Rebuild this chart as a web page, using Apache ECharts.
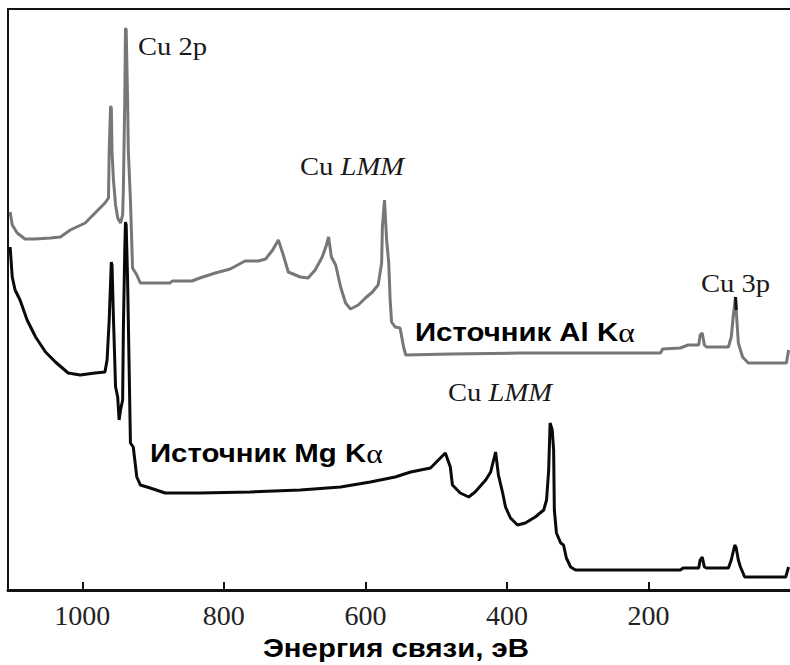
<!DOCTYPE html>
<html>
<head>
<meta charset="utf-8">
<script src="https://cdn.jsdelivr.net/npm/echarts@6/dist/echarts.min.js"></script>
<style>
  html, body { margin: 0; padding: 0; background: #fff; }
  #chart { width: 790px; height: 665px; }
</style>
</head>
<body>
<div id="chart"></div>
<script>
// XPS survey spectra of copper: binding energy (eV) vs. intensity (arb. units)

// Al Kα excitation
const alEnergy = [1102, 1099, 1092, 1081, 1067, 1045, 1031, 1017, 996, 982, 968, 963, 962, 960, 959, 958, 956, 953, 950, 946, 943, 942, 940, 939, 938, 936, 935, 932, 929, 923, 918, 876, 873, 845, 834, 812, 791, 770, 751, 741, 731, 723, 716, 709, 692, 681, 671, 661, 655, 652, 648, 642, 635, 628, 621, 610, 600, 590, 582, 577, 576, 573, 570, 567, 565, 563, 558, 551, 546, 543, 480, 381, 268, 183, 180, 155, 144, 129, 127, 124, 121, 118, 87, 83, 80, 77, 76, 73, 67, 59, 5, 2];
const alIntensity = [378, 365, 357, 351, 351, 352, 353, 360, 367, 377, 387, 392, 440, 484, 482, 438, 410, 385, 372, 367, 375, 400, 490, 562, 560, 490, 440, 390, 322, 315, 307, 307, 309, 309, 312, 317, 321, 329, 329, 331, 340, 350, 335, 318, 313, 312, 320, 333, 345, 353, 333, 325, 303, 287, 281, 285, 292, 298, 305, 327, 363, 390, 350, 327, 290, 268, 263, 262, 243, 235, 236, 237, 237, 237, 241, 242, 245, 245, 255, 257, 245, 243, 243, 253, 275, 293, 280, 247, 233, 227, 227, 240];

// Mg Kα excitation
const mgEnergy = [1102, 1099, 1095, 1088, 1078, 1066, 1052, 1038, 1020, 1003, 982, 968, 965, 962, 959, 958, 956, 953, 950, 948, 946, 943, 942, 940, 939, 938, 936, 935, 932, 928, 923, 918, 904, 883, 834, 763, 692, 635, 593, 558, 536, 508, 494, 487, 480, 477, 466, 454, 445, 430, 423, 416, 412, 406, 402, 395, 385, 374, 360, 348, 344, 341, 339, 336, 334, 333, 330, 324, 320, 316, 310, 303, 155, 151, 129, 127, 124, 121, 118, 87, 83, 78, 76, 73, 70, 64, 6, 2];
const mgIntensity = [343, 313, 300, 290, 270, 253, 238, 228, 217, 215, 217, 218, 230, 270, 328, 325, 272, 203, 193, 170, 180, 190, 260, 340, 368, 365, 310, 270, 147, 143, 113, 105, 102, 97, 97, 98, 100, 103, 108, 113, 118, 122, 132, 137, 123, 105, 97, 93, 98, 110, 118, 138, 115, 97, 83, 72, 65, 67, 73, 80, 90, 120, 167, 160, 140, 80, 57, 47, 45, 32, 23, 20, 20, 22, 22, 30, 33, 23, 22, 22, 30, 45, 42, 30, 23, 13, 13, 23];

// Axis ticks
const tickValues = [200, 400, 600, 800, 1000];
const tickLabels = ['200', '400', '600', '800', '1000'];

const axisTitle = 'Энергия связи, эВ';
const serif = '"Liberation Serif", "DejaVu Serif", serif';
const sans = '"Liberation Sans", Arial, sans-serif';

const pairs = (xs, ys) => xs.map((x, i) => [x, ys[i]]);
const alData = pairs(alEnergy, alIntensity);
const mgData = pairs(mgEnergy, mgIntensity);
// darker tip of the Al Kα Cu 3p peak
const alTip = alData.filter(d => d[0] >= 76 && d[0] <= 78);

const ink = '#1a1a1a';
const peakLabel = (text, x, y) => ({
  type: 'text', x, y, scaleX: 1.1,
  style: { text, font: '26px ' + serif, fill: ink, textVerticalAlign: 'middle' }
});
const lmmLabel = (x, y) => ({
  type: 'text', x, y, scaleX: 1.1,
  style: {
    text: '{n|Cu }{i|LMM}', textVerticalAlign: 'middle',
    rich: { n: { font: '26px ' + serif, fill: ink }, i: { font: 'italic 26px ' + serif, fill: ink } }
  }
});
const sourceLabel = (element, x, y) => ({
  type: 'text', x, y, scaleX: 1.13,
  style: {
    text: '{b|Источник ' + element + ' K}{a|α}', textVerticalAlign: 'middle',
    rich: { b: { font: 'bold 26px ' + sans, fill: '#000' }, a: { font: '28px ' + serif, fill: '#000' } }
  }
});

const chart = echarts.init(document.getElementById('chart'), null, { renderer: 'svg' });

chart.setOption({
  animation: false,
  backgroundColor: '#fff',
  grid: { left: 8, right: 0, top: 9, bottom: 75, containLabel: false },
  xAxis: [
    {
      type: 'value', min: 0, max: 1105, inverse: true, position: 'bottom',
      axisLine: { show: true, onZero: false, lineStyle: { color: '#111', width: 3 } },
      axisTick: { show: true, inside: true, length: 8, customValues: tickValues, lineStyle: { color: '#111', width: 2 } },
      axisLabel: {
        show: true, customValues: tickValues, margin: 11,
        formatter: v => tickLabels[tickValues.indexOf(v)] || '',
        fontFamily: serif, fontSize: 28, color: '#222'
      },
      splitLine: { show: false }
    },
    {
      type: 'value', min: 0, max: 1105, inverse: true, position: 'top',
      axisLine: { show: true, onZero: false, lineStyle: { color: '#111', width: 2 } },
      axisTick: { show: false }, axisLabel: { show: false }, splitLine: { show: false }
    }
  ],
  yAxis: {
    type: 'value', min: 0, max: 581,
    axisLine: { show: true, onZero: false, lineStyle: { color: '#111', width: 2 } },
    axisTick: { show: false }, axisLabel: { show: false }, splitLine: { show: false }
  },
  series: [
    {
      name: 'Al Kα', type: 'line', data: alData, showSymbol: false, smooth: false,
      lineStyle: { color: '#777', width: 3 }, z: 2
    },
    {
      name: 'Al Kα tip', type: 'line', data: alTip, showSymbol: false,
      lineStyle: { color: '#111', width: 3 }, z: 3
    },
    {
      name: 'Mg Kα', type: 'line', data: mgData, showSymbol: false, smooth: false,
      lineStyle: { color: '#0a0a0a', width: 3 }, z: 4
    }
  ],
  graphic: [
    peakLabel('Cu 2p', 138, 46),
    lmmLabel(300, 166),
    peakLabel('Cu 3p', 701, 283),
    lmmLabel(448, 392),
    sourceLabel('Al', 415, 332),
    sourceLabel('Mg', 150, 453),
    {
      type: 'text', x: 396, y: 648, scaleX: 1.13,
      style: { text: axisTitle, font: 'bold 26px ' + sans, fill: '#000', textAlign: 'center', textVerticalAlign: 'middle' }
    }
  ]
});
</script>
</body>
</html>
